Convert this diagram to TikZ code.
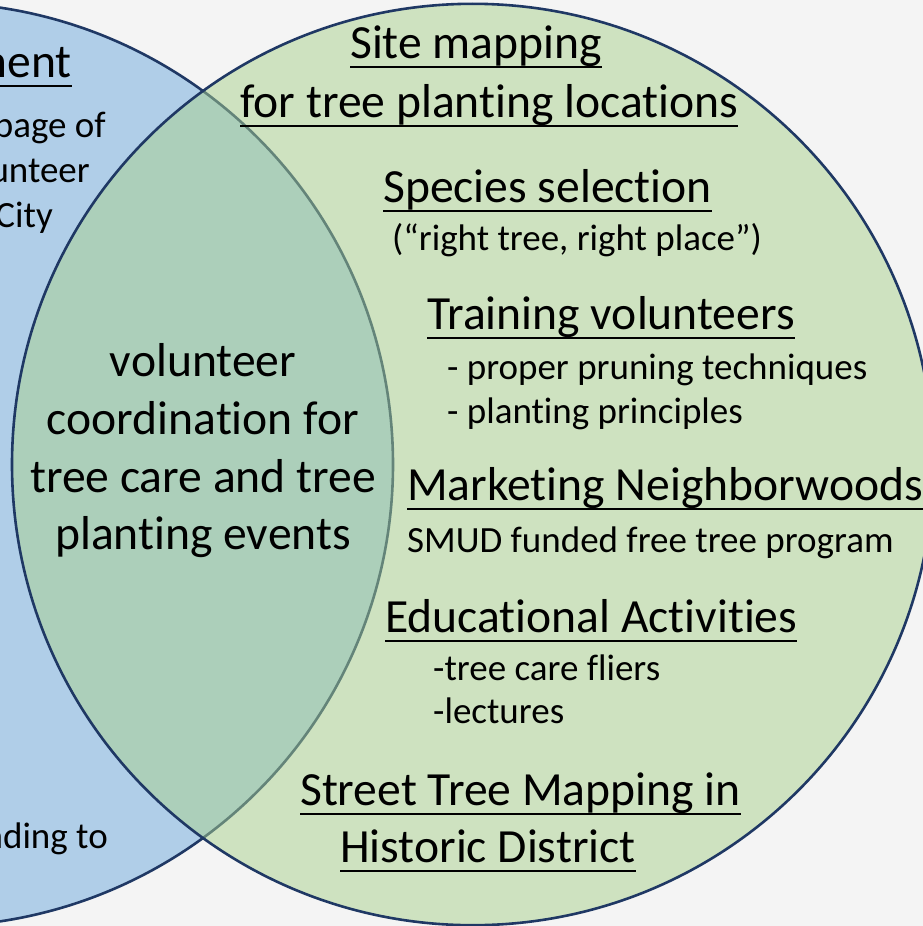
\documentclass[tikz,border=0pt]{standalone}
\usepackage{fontspec}
\setmainfont{Carlito}[Ligatures={NoCommon,NoContextual}]
\definecolor{venblue}{RGB}{176,206,232}
\definecolor{vengreen}{RGB}{169,209,142}
\definecolor{venline}{RGB}{31,56,100}
\definecolor{venback}{RGB}{244,244,244}
\newsavebox{\ulbox}
\newcommand{\ulined}[1]{\sbox{\ulbox}{#1}\rlap{\rule[-10pt]{\wd\ulbox}{2.4pt}}\usebox{\ulbox}}

\begin{document}
\begin{tikzpicture}[x=1pt,y=-1pt,
  head/.style={anchor=base west,inner sep=0pt,font=\fontsize{47.6}{57.5}\selectfont},
  body/.style={anchor=base west,inner sep=0pt,font=\fontsize{37}{45}\selectfont}]
\useasboundingbox (0,0) rectangle (923,926);
\fill[venback] (0,0) rectangle (923,926);
\clip (0,0) rectangle (923,926);
% the two circles
\draw[line width=2.6pt,venline,fill=venblue] (-69,464.5) circle (462pt);
\draw[line width=2.6pt,venline,fill=vengreen,fill opacity=0.5] (472.7,464.5) circle (460.7pt);
% overlap
\node[anchor=center,inner sep=0pt,align=center,font=\fontsize{47.6}{57.7}\selectfont] (overlap) at (203,451)
  {volunteer\\coordination for\\tree care and tree\\planting events};
% left circle, cut by the page edge
\node[head,anchor=base east] (lhead) at (72,77) {\ulined{ment}};
\node[body,anchor=base east] (lpage) at (106,137) {page of};
\node[body,anchor=base east] (lunteer) at (90,182) {unteer};
\node[body,anchor=base east] (lcity) at (53,227) {City};
\node[body,anchor=base east] (lfund) at (108,848) {nding to};
% right circle
\node[head] (site) at (350,58) {\ulined{Site mapping}};
\node[head] (sitesub) at (240,117) {\ulined{for tree planting locations}};
\node[head] (species) at (383,202) {\ulined{Species selection}};
\node[body] (speciesnote) at (392,250) {(“right tree, right place”)};
\node[head] (training) at (427,329) {\ulined{Training volunteers}};
\node[body] (prune) at (447,379) {- proper pruning techniques};
\node[body] (plant) at (447,423) {- planting principles};
\node[head] (marketing) at (407,500) {\ulined{Marketing Neighborwoods}};
\node[body] (smud) at (407,552) {SMUD funded free tree program};
\node[head] (education) at (385,632) {\ulined{Educational Activities}};
\node[body] (fliers) at (433,680) {-tree care fliers};
\node[body] (lectures) at (433,723) {-lectures};
\node[head] (street) at (300,805) {\ulined{Street Tree Mapping in}};
\node[head] (district) at (340,862) {\ulined{Historic District}};
\end{tikzpicture}
\end{document}
